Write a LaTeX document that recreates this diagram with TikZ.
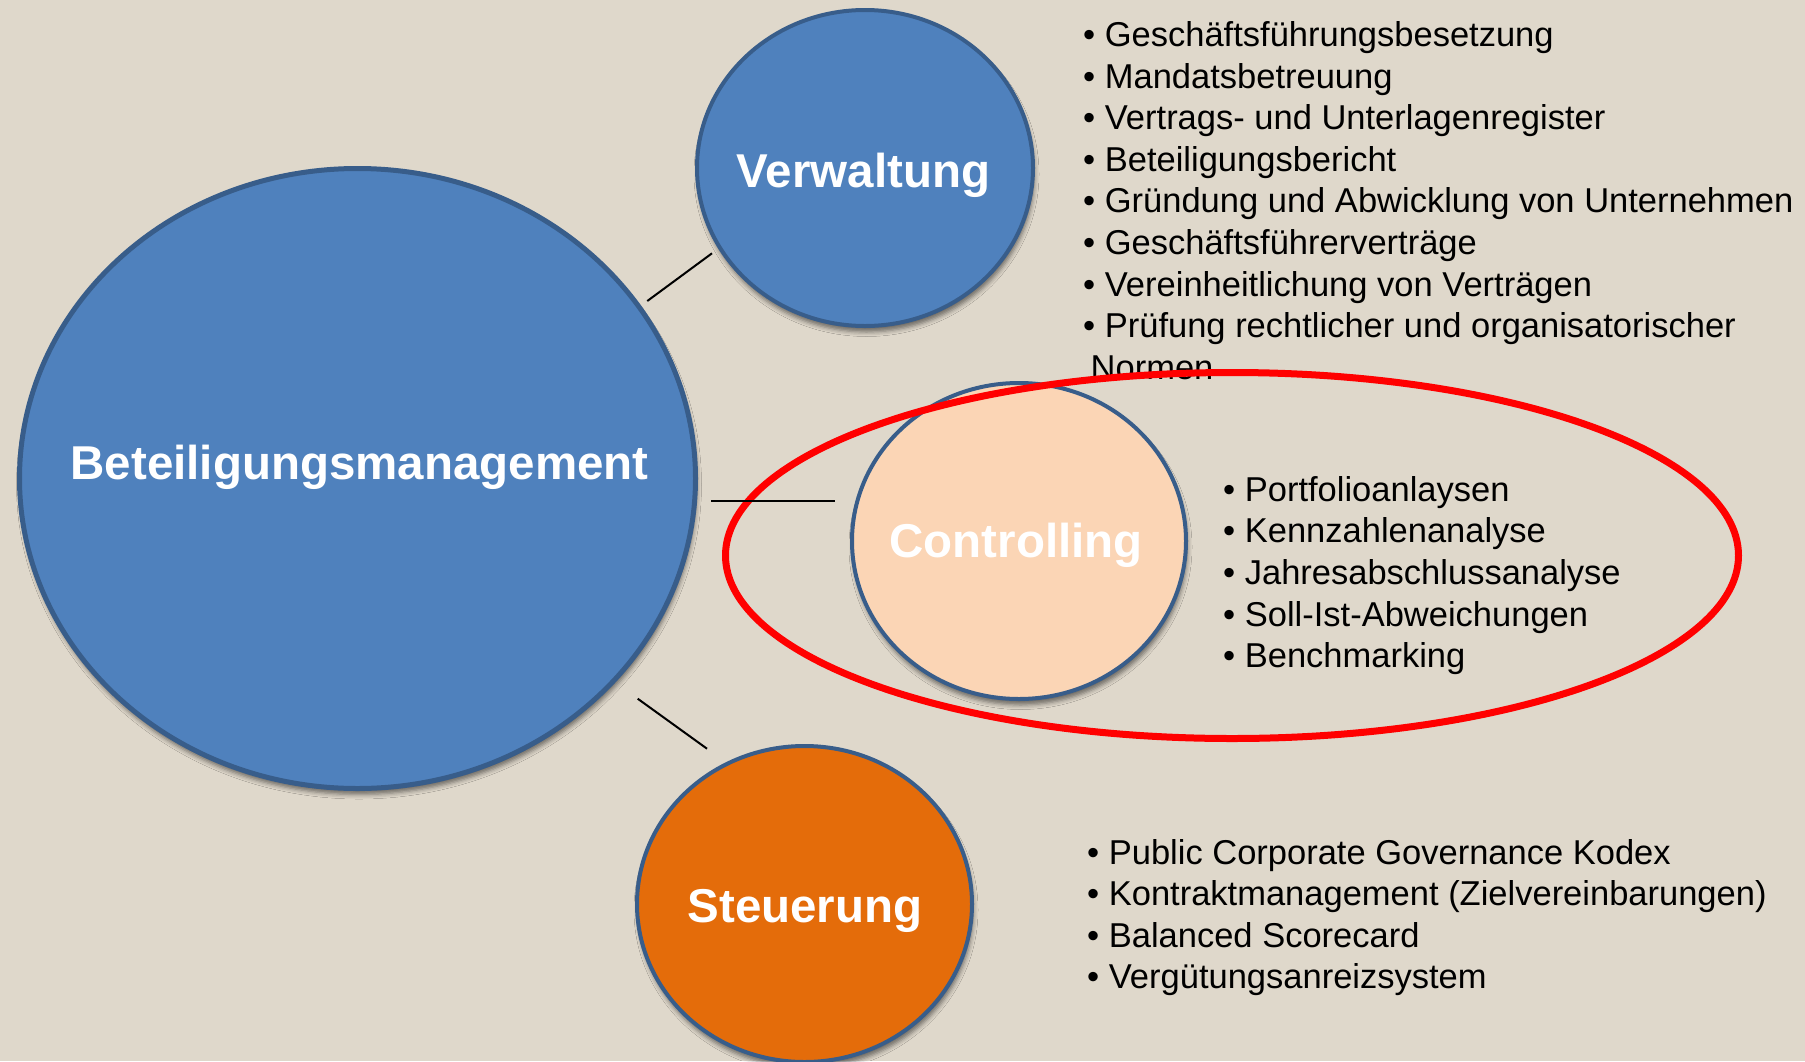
\documentclass[tikz,border=0pt]{standalone}
\usepackage{fontspec}
\setmainfont{Liberation Sans}
\usetikzlibrary{shapes.geometric,shadows.blur}
\definecolor{bgc}{HTML}{DFD8CB}
\definecolor{bluefill}{HTML}{4F81BD}
\definecolor{bord}{HTML}{385D8A}
\definecolor{peach}{HTML}{FBD5B5}
\definecolor{orangefill}{HTML}{E46C0A}
\tikzset{
  bubble/.style={ellipse, draw=bord, line width=4pt, inner sep=0pt,
    blur shadow={shadow xshift=1.5pt, shadow yshift=-6pt, shadow blur radius=4.5pt, shadow opacity=50}},
  biglabel/.style={anchor=base, inner sep=0pt, text=white, font=\fontsize{47.5}{57}\selectfont\bfseries},
  item/.style={anchor=base west, inner sep=0pt, font=\fontsize{34.5}{41.6}\selectfont},
  conn/.style={black, line width=2pt},
  focusring/.style={ellipse, draw=red, line width=7pt, inner sep=0pt}
}
\begin{document}
\begin{tikzpicture}[x=1pt,y=-1pt]
\useasboundingbox (0,0) rectangle (1805,1061);
\fill[bgc] (0,0) rectangle (1805,1061);

% circles
\node[bubble, fill=bluefill, line width=5pt, minimum width=676pt, minimum height=620pt] (bm) at (357.5,478.5) {};
\node[bubble, fill=bluefill, minimum width=336pt, minimum height=316pt] (verw) at (865,168) {};
\node[bubble, fill=peach, minimum width=334pt, minimum height=316pt] (ctrl) at (1019,541) {};
\node[bubble, fill=orangefill, minimum width=335pt, minimum height=316pt] (steu) at (804.5,904) {};

% labels
\node[biglabel] (bmt) at (359.5,479) {Beteiligungsmanagement};
\node[biglabel] (verwt) at (863.5,187) {Verwaltung};
\node[biglabel] (ctrlt) at (1016,557) {Controlling};
\node[biglabel] (steut) at (805,922) {Steuerung};

% lists
\foreach \t [count=\i] in {Geschäftsführungsbesetzung, Mandatsbetreuung, Vertrags- und Unterlagenregister, Beteiligungsbericht, Gründung und Abwicklung von Unternehmen, Geschäftsführerverträge, Vereinheitlichung von Verträgen, Prüfung rechtlicher und organisatorischer}
  \node[item] (v\i) at (1083,{46.5+41.6*(\i-1)}) {• \t};
\node[item] (v9) at (1090.5,379.5) {Normen};

\foreach \t [count=\i] in {Portfolioanlaysen, Kennzahlenanalyse, Jahresabschlussanalyse, Soll-Ist-Abweichungen, Benchmarking}
  \node[item] (c\i) at (1223,{501+41.7*(\i-1)}) {• \t};

\foreach \t [count=\i] in {Public Corporate Governance Kodex, Kontraktmanagement (Zielvereinbarungen), Balanced Scorecard, Vergütungsanreizsystem}
  \node[item] (s\i) at (1087,{864+41.6*(\i-1)}) {• \t};

% red focus ellipse
\node[focusring, minimum width=1013pt, minimum height=366pt] (focus) at (1232,555.5) {};

% connectors
\coordinate (a1) at (647.3,301);
\coordinate (b1) at (712,253.3);
\coordinate (a2) at (711,500.7);
\coordinate (b2) at (835,500.7);
\coordinate (a3) at (637.7,698.7);
\coordinate (b3) at (707,748.7);
\draw[conn] (a1) -- (b1);
\draw[conn] (a2) -- (b2);
\draw[conn] (a3) -- (b3);
\end{tikzpicture}
\end{document}
